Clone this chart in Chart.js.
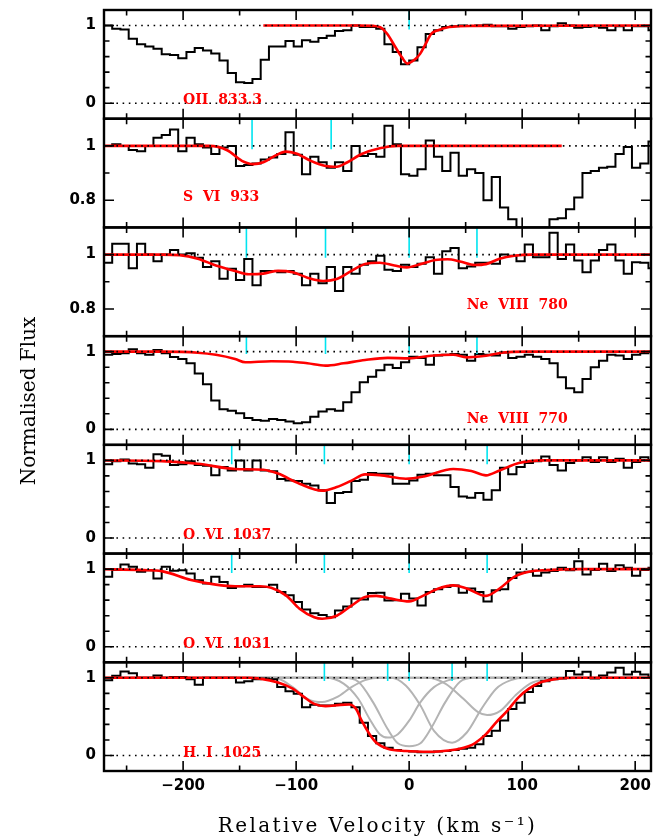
<!DOCTYPE html>
<html>
<head>
<meta charset="utf-8">
<title>Velocity stack</title>
<script src="https://cdn.jsdelivr.net/npm/chart.js@4.4.1/dist/chart.umd.min.js"></script>
<style>
  html, body { margin: 0; padding: 0; background: #fff; }
  #wrap { position: relative; width: 655px; height: 836px; }
</style>
</head>
<body>
<div id="wrap"><canvas id="stack"></canvas></div>
<script>
// ── data ─────────────────────────────────────────────────────
const X_MIN = -270, X_MAX = 214;
const X_LABELS = [-200, -100, 0, 100, 200];
const X_MINOR  = [-250, -150, -50, 50, 150];

// pixel centres (km/s), shared by all transitions
const VEL = [-273.7, -266.4, -259.1, -251.8, -244.5, -237.2, -229.9, -222.6, -215.3, -208.0,
  -200.7, -193.4, -186.1, -178.8, -171.5, -164.2, -156.9, -149.6, -142.3, -135.0,
  -127.7, -120.4, -113.1, -105.8, -98.5, -91.2, -83.9, -76.6, -69.3, -62.0,
  -54.7, -47.4, -40.1, -32.8, -25.5, -18.2, -10.9, -3.6, 3.7, 11.0,
  18.3, 25.6, 32.9, 40.2, 47.5, 54.8, 62.1, 69.4, 76.7, 84.0,
  91.3, 98.6, 105.9, 113.2, 120.5, 127.8, 135.1, 142.4, 149.7, 157.0,
  164.3, 171.6, 178.9, 186.2, 193.5, 200.8, 208.1, 215.4, 222.7];

const FLUX_OII = [1.0, 1.0, 0.96, 0.95, 0.83, 0.76, 0.73, 0.70, 0.63, 0.62,
  0.58, 0.66, 0.71, 0.68, 0.64, 0.55, 0.39, 0.27, 0.26, 0.31,
  0.56, 0.73, 0.73, 0.80, 0.73, 0.81, 0.79, 0.84, 0.87, 0.93,
  0.94, 1.00, 0.98, 0.98, 0.96, 0.76, 0.66, 0.50, 0.55, 0.72,
  0.89, 0.94, 0.98, 0.99, 1.00, 0.995, 1.00, 1.01, 0.99, 0.99,
  0.96, 0.98, 0.99, 1.00, 0.94, 0.99, 1.03, 1.00, 0.97, 0.98,
  0.99, 0.97, 0.94, 0.99, 0.94, 0.99, 0.99, 0.94, 0.94];

const FLUX_SVI = [1.0, 1.0, 1.006, 1.0, 0.985, 0.98, 1.0, 1.03, 1.04, 1.06,
  0.98, 1.03, 1.006, 0.994, 0.97, 0.994, 1.0, 0.926, 0.93, 0.935,
  0.95, 0.957, 0.97, 1.05, 0.967, 0.896, 0.96, 0.94, 0.92, 0.94,
  0.908, 1.0, 0.963, 0.97, 0.96, 1.074, 1.006, 0.896, 0.89, 0.914,
  1.02, 0.96, 0.908, 0.975, 0.89, 0.914, 0.9, 0.8, 0.886, 0.773,
  0.73, 0.69, 0.65, 0.65, 0.66, 0.73, 0.734, 0.767, 0.81, 0.90,
  0.908, 0.92, 0.923, 0.97, 0.996, 0.92, 0.935, 1.016, 1.016];

const FLUX_NE780 = [0.97, 0.97, 1.04, 1.04, 0.95, 1.04, 1.0, 0.976, 1.0, 1.017,
  1.0, 1.005, 0.988, 0.954, 0.976, 0.911, 0.948, 0.907, 0.984, 0.887,
  0.94, 0.94, 0.935, 0.94, 0.93, 0.887, 0.93, 0.895, 0.954, 0.866,
  0.954, 0.93, 0.963, 0.976, 0.996, 0.944, 0.94, 0.963, 0.954, 0.966,
  0.99, 0.93, 1.012, 1.024, 0.95, 0.956, 0.97, 0.97, 0.966, 1.0,
  0.996, 0.976, 1.037, 0.99, 0.99, 1.08, 0.984, 1.037, 0.978, 0.935,
  0.978, 1.017, 1.037, 0.978, 0.93, 0.972, 0.97, 0.95, 0.95];

const FLUX_NE770 = [0.96, 0.96, 0.97, 0.98, 1.03, 0.98, 0.96, 1.02, 0.98, 0.93,
  0.906, 0.85, 0.72, 0.58, 0.37, 0.26, 0.24, 0.206, 0.146, 0.12,
  0.11, 0.133, 0.12, 0.10, 0.077, 0.09, 0.163, 0.23, 0.26, 0.24,
  0.35, 0.476, 0.605, 0.678, 0.76, 0.833, 0.79, 0.863, 0.936, 0.918,
  0.833, 0.95, 0.96, 0.97, 0.96, 0.884, 0.97, 0.96, 0.95, 0.99,
  0.918, 0.935, 0.96, 0.935, 0.906, 0.85, 0.67, 0.53, 0.476, 0.648,
  0.8, 0.884, 0.96, 0.95, 0.906, 0.96, 0.98, 1.0, 1.0];

const FLUX_OVI1037 = [0.95, 0.95, 0.99, 1.01, 0.96, 0.95, 0.906, 1.08, 1.06, 0.94,
  0.95, 0.99, 0.94, 0.93, 0.81, 0.914, 0.87, 1.0, 0.87, 1.0,
  0.87, 0.86, 0.76, 0.74, 0.734, 0.70, 0.678, 0.614, 0.45, 0.58,
  0.592, 0.734, 0.75, 0.837, 0.828, 0.828, 0.70, 0.70, 0.74, 0.815,
  0.828, 0.807, 0.807, 0.657, 0.536, 0.52, 0.58, 0.494, 0.614, 0.906,
  0.82, 0.914, 0.966, 0.99, 1.05, 0.94, 0.87, 0.966, 1.0, 1.04,
  0.98, 1.04, 0.98, 1.02, 0.906, 0.98, 1.04, 1.0, 1.0];

const FLUX_OVI1031 = [0.90, 0.90, 0.99, 1.06, 1.03, 0.965, 0.985, 0.88, 1.03, 0.98,
  0.985, 0.944, 0.857, 0.814, 0.9, 0.835, 0.758, 0.78, 0.8, 0.77,
  0.77, 0.8, 0.705, 0.662, 0.576, 0.48, 0.43, 0.41, 0.38, 0.467,
  0.52, 0.62, 0.61, 0.693, 0.697, 0.597, 0.6, 0.684, 0.62, 0.532,
  0.706, 0.74, 0.77, 0.79, 0.697, 0.75, 0.706, 0.584, 0.727, 0.74,
  0.887, 0.957, 0.965, 0.913, 0.957, 0.974, 1.017, 0.985, 1.1, 0.93,
  0.987, 1.07, 0.974, 1.05, 1.017, 0.913, 0.99, 1.017, 1.017];

const FLUX_HI = [0.97, 0.97, 1.026, 1.08, 1.06, 1.0, 1.0, 1.03, 1.0, 1.01,
  1.01, 0.98, 0.91, 1.0, 1.0, 1.0, 1.0, 0.94, 0.957, 0.98,
  0.99, 0.98, 0.883, 0.826, 0.796, 0.622, 0.652, 0.643, 0.643, 0.665,
  0.678, 0.62, 0.42, 0.252, 0.157, 0.10, 0.07, 0.057, 0.05, 0.043,
  0.043, 0.05, 0.057, 0.07, 0.087, 0.1, 0.143, 0.252, 0.317, 0.45,
  0.6, 0.678, 0.817, 0.896, 0.957, 0.983, 0.99, 1.087, 1.043, 1.078,
  0.99, 1.03, 1.07, 1.13, 1.043, 1.078, 1.043, 1.0, 0.883];

// fitted profiles (red)
const MOD_OII_V = [-129, -45, -32, -25.7, -19.3, -12.9, -6.4, -1.6, 4.8, 9.7, 14.5, 19.3, 25.7, 35.4, 54.7, 225];
const MOD_OII_F = [1.0, 1.0, 0.995, 0.98, 0.89, 0.74, 0.59, 0.51, 0.56, 0.635, 0.76, 0.89, 0.94, 0.98, 0.995, 1.0];

const MOD_SVI_V = [-275, -177, -161, -148, -138, -129, -119, -109, -100, -87, -74, -64, -55, -42, -26, -10, 135];
const MOD_SVI_F = [1.0, 1.0, 0.984, 0.945, 0.933, 0.94, 0.963, 0.979, 0.972, 0.945, 0.926, 0.923, 0.939, 0.97, 0.991, 1.0, 1.0];

const MOD_NE780_V = [-275, -219, -203, -187, -171, -154, -142, -129, -116, -103, -90, -76, -64, -51,
  -39, -26, -13, -2, 10, 23, 34, 45, 58, 68, 80, 93, 109, 225];
const MOD_NE780_F = [1.0, 1.0, 0.998, 0.985, 0.96, 0.94, 0.928, 0.93, 0.94, 0.935, 0.915, 0.903, 0.91, 0.94,
  0.965, 0.97, 0.96, 0.953, 0.965, 0.98, 0.983, 0.975, 0.962, 0.965, 0.985, 0.996, 1.0, 1.0];

const MOD_NE770_V = [-275, -220, -187, -171, -154, -145, -122, -103, -90, -74, -58, -39, -19, 0, 19, 39, 51, 64, 84, 103, 225];
const MOD_NE770_F = [1.0, 1.0, 0.987, 0.96, 0.906, 0.863, 0.876, 0.871, 0.85, 0.82, 0.85, 0.893, 0.92, 0.914, 0.948, 0.96, 0.927, 0.94, 0.99, 1.0, 1.0];

const MOD_OVI1037_V = [-275, -219, -187, -154, -129, -116, -97, -77, -64, -51, -39, -26, -3, 13, 39, 55, 68, 80, 97, 119, 225];
const MOD_OVI1037_F = [1.0, 0.99, 0.957, 0.89, 0.88, 0.83, 0.70, 0.61, 0.657, 0.74, 0.82, 0.81, 0.764, 0.794, 0.89, 0.863, 0.807, 0.87, 0.966, 1.0, 1.0];

const MOD_OVI1031_V = [-275, -235, -219, -193, -171, -154, -132, -122, -109, -97, -84, -77, -64, -51, -39,
  -29, -16, 0, 13, 26, 39, 51, 68, 80, 93, 106, 122, 151, 225];
const MOD_OVI1031_F = [1.0, 0.987, 0.974, 0.86, 0.8, 0.78, 0.78, 0.76, 0.662, 0.49, 0.38, 0.36, 0.40, 0.53, 0.64,
  0.655, 0.62, 0.584, 0.662, 0.75, 0.79, 0.75, 0.655, 0.75, 0.9, 0.965, 0.987, 1.0, 1.0];

const MOD_HI_V = [-275, -142, -132, -116, -103, -93, -84, -74, -61, -53, -47, -42, -35, -29, -19,
  -3, 19, 35, 45, 58, 68, 77, 87, 97, 106, 116, 129, 150, 225];
const MOD_HI_F = [1.0, 1.0, 0.99, 0.94, 0.86, 0.752, 0.665, 0.635, 0.652, 0.657, 0.6, 0.448, 0.274, 0.165, 0.087,
  0.057, 0.048, 0.065, 0.087, 0.157, 0.274, 0.426, 0.578, 0.752, 0.861, 0.939, 0.983, 1.0, 1.0];

// individual H I components (grey)
const HI_A_V = [-275, -119, -103, -90, -77, -64, -51, -39, -26, 225];
const HI_A_F = [1.0, 1.0, 0.88, 0.73, 0.687, 0.75, 0.88, 0.97, 1.0, 1.0];
const HI_B_V = [-275, -74, -58, -45, -35, -26, -19, -10, 0, 10, 22, 35, 48, 225];
const HI_B_F = [1.0, 1.0, 0.926, 0.73, 0.47, 0.274, 0.23, 0.274, 0.448, 0.687, 0.88, 0.97, 1.0, 1.0];
const HI_C_V = [-275, -58, -45, -32, -19, -10, 0, 10, 19, 32, 45, 58, 225];
const HI_C_F = [1.0, 1.0, 0.95, 0.687, 0.34, 0.157, 0.12, 0.157, 0.34, 0.687, 0.95, 1.0, 1.0];
const HI_D_V = [-275, -16, -3, 10, 22, 38, 51, 64, 77, 90, 103, 225];
const HI_D_F = [1.0, 1.0, 0.9, 0.643, 0.317, 0.165, 0.296, 0.6, 0.86, 0.97, 1.0, 1.0];
const HI_E_V = [-275, 16, 32, 48, 61, 69, 81, 94, 107, 120, 132, 225];
const HI_E_F = [1.0, 1.0, 0.926, 0.73, 0.557, 0.52, 0.578, 0.774, 0.926, 0.983, 1.0, 1.0];

// component velocities (cyan markers)
const TICKS_OII   = [0];
const TICKS_SVI   = [-139, -69];
const TICKS_NEVIII = [-144, -74, 0, 60];
const TICKS_OVI   = [-157, -75, 0, 69];
const TICKS_HI    = [-75, -19, 0, 38, 69];

// ── panel setup (top → bottom) ───────────────────────────────
const PANELS = [
  { label: 'OII  833.3',    flux: FLUX_OII,     mv: MOD_OII_V,     mf: MOD_OII_F,     marks: TICKS_OII,    min: -0.2, max: 1.2, labels: [0, 1],   minor: [0.2, 0.4, 0.6, 0.8], dots: [0, 1], markLow: 0.95,  at: [-200, -0.015] },
  { label: 'S  VI  933',    flux: FLUX_SVI,     mv: MOD_SVI_V,     mf: MOD_SVI_F,     marks: TICKS_SVI,    min: 0.7,  max: 1.1, labels: [0.8, 1], minor: [0.9],                dots: [1],    markLow: 0.988, at: [-200, 0.797] },
  { label: 'Ne  VIII  780', flux: FLUX_NE780,   mv: MOD_NE780_V,   mf: MOD_NE780_F,   marks: TICKS_NEVIII, min: 0.7,  max: 1.1, labels: [0.8, 1], minor: [0.9],                dots: [1],    markLow: 0.988, at: [51, 0.8] },
  { label: 'Ne  VIII  770', flux: FLUX_NE770,   mv: MOD_NE770_V,   mf: MOD_NE770_F,   marks: TICKS_NEVIII, min: -0.2, max: 1.2, labels: [0, 1],   minor: [0.2, 0.4, 0.6, 0.8], dots: [0, 1], markLow: 0.97,  at: [51, 0.08] },
  { label: 'O  VI  1037',   flux: FLUX_OVI1037, mv: MOD_OVI1037_V, mf: MOD_OVI1037_F, marks: TICKS_OVI,    min: -0.2, max: 1.2, labels: [0, 1],   minor: [0.2, 0.4, 0.6, 0.8], dots: [0, 1], markLow: 0.95,  at: [-200, -0.01] },
  { label: 'O  VI  1031',   flux: FLUX_OVI1031, mv: MOD_OVI1031_V, mf: MOD_OVI1031_F, marks: TICKS_OVI,    min: -0.2, max: 1.2, labels: [0, 1],   minor: [0.2, 0.4, 0.6, 0.8], dots: [0, 1], markLow: 0.95,  at: [-200, -0.01] },
  { label: 'H  I  1025',    flux: FLUX_HI,      mv: MOD_HI_V,      mf: MOD_HI_F,      marks: TICKS_HI,     min: -0.2, max: 1.2, labels: [0, 1],   minor: [0.2, 0.4, 0.6, 0.8], dots: [0, 1], markLow: 0.96,  at: [-200, -0.02] },
];
const HI_COMPONENTS = [[HI_A_V, HI_A_F], [HI_B_V, HI_B_F], [HI_C_V, HI_C_F], [HI_D_V, HI_D_F], [HI_E_V, HI_E_F]];

const RED = '#ff0000';
const CYAN = '#00e4f0';
const GREY = '#b4b4b4';
const TICK_FONT = { family: 'DejaVu Sans', size: 15, weight: 'bold' };
const X_TITLE = 'Relative Velocity (km s\u207B\u00B9)';
const Y_TITLE = 'Normalised Flux';

const pairs = (xs, ys) => xs.map((v, i) => ({ x: v, y: ys[i] }));
// keep the plot box fixed: drop the label overhang Chart.js reserves
const noOverhang = s => { s.paddingTop = 0; s.paddingBottom = 0; s.paddingLeft = 0; s.paddingRight = 0; };

// ── datasets ─────────────────────────────────────────────────
const datasets = [];
PANELS.forEach((p, k) => {
  const yAxisID = 'y' + k;
  datasets.push({
    yAxisID, data: pairs(VEL, p.flux), stepped: 'middle',
    borderColor: '#000', borderWidth: 2, clip: 0, order: 4,
  });
  datasets.push({
    yAxisID, data: pairs(p.mv, p.mf), cubicInterpolationMode: 'monotone',
    borderColor: RED, borderWidth: 2.6, clip: 0, order: 2,
  });
  datasets.push({
    yAxisID, data: p.marks.flatMap(v => [{ x: v, y: p.max }, { x: v, y: p.markLow }, { x: v, y: null }]),
    borderColor: CYAN, borderWidth: 1.6, clip: 0, order: 3, spanGaps: false,
  });
  p.dots.forEach(lvl => datasets.push({
    yAxisID, data: [{ x: X_MIN, y: lvl }, { x: X_MAX, y: lvl }],
    borderColor: '#000', borderWidth: 1.6, borderDash: [1.6, 4.6], clip: 0, order: 1,
  }));
});
HI_COMPONENTS.forEach(([v, f]) => datasets.push({
  yAxisID: 'y' + (PANELS.length - 1), data: pairs(v, f), cubicInterpolationMode: 'monotone',
  borderColor: GREY, borderWidth: 2, clip: 0, order: 6,
}));

// ── scales ───────────────────────────────────────────────────
const scales = {
  x: {
    type: 'linear', position: 'bottom', min: X_MIN, max: X_MAX,
    afterBuildTicks: s => { s.ticks = X_LABELS.map(v => ({ value: v })); },
    afterFit: s => { s.height = 65; noOverhang(s); },
    grid: { display: false, drawTicks: false },
    border: { display: false },
    ticks: {
      padding: 6, maxRotation: 0, color: '#000', font: TICK_FONT,
      callback: v => v < 0 ? '\u2212' + Math.abs(v) : String(v),
    },
  },
};
PANELS.forEach((p, k) => {
  scales['y' + k] = {
    type: 'linear', position: 'left', stack: 'flux', stackWeight: 1, weight: PANELS.length - k,
    min: p.min, max: p.max,
    afterBuildTicks: s => { s.ticks = p.labels.map(v => ({ value: v })); },
    afterFit: s => { s.width = 104; noOverhang(s); },
    grid: { display: false, drawTicks: false },
    border: { display: false },
    ticks: { padding: 8, color: '#000', font: TICK_FONT, callback: v => String(v) },
  };
});

// ── frames, inward ticks, labels, axis titles ────────────────
const panelFrames = {
  id: 'panelFrames',
  afterDatasetsDraw(chart) {
    const { ctx, chartArea } = chart;
    const xs = chart.scales.x;
    ctx.save();
    ctx.strokeStyle = '#000';
    PANELS.forEach((p, k) => {
      const ys = chart.scales['y' + k];
      const L = xs.left, R = xs.right, T = ys.top, B = ys.bottom;
      ctx.lineWidth = 1.6;
      ctx.beginPath();
      const xTick = (vals, len) => vals.forEach(v => {
        const px = xs.getPixelForValue(v);
        ctx.moveTo(px, T); ctx.lineTo(px, T + len);
        ctx.moveTo(px, B); ctx.lineTo(px, B - len);
      });
      const yTick = (vals, len) => vals.forEach(v => {
        const py = ys.getPixelForValue(v);
        ctx.moveTo(L, py); ctx.lineTo(L + len, py);
        ctx.moveTo(R, py); ctx.lineTo(R - len, py);
      });
      xTick(X_LABELS, 10);
      xTick(X_MINOR, 5.5);
      yTick(p.labels, 10);
      yTick(p.minor, 5.5);
      ctx.stroke();
      ctx.lineWidth = 2.4;
      ctx.strokeRect(L, T, R - L, B - T);

      ctx.fillStyle = RED;
      ctx.font = 'bold 14px "DejaVu Serif"';
      ctx.textAlign = 'left';
      ctx.textBaseline = 'alphabetic';
      ctx.fillText(p.label, xs.getPixelForValue(p.at[0]), ys.getPixelForValue(p.at[1]));
    });

    ctx.fillStyle = '#000';
    ctx.textAlign = 'center';
    ctx.font = '20px "DejaVu Serif"';
    ctx.letterSpacing = '2.4px';
    ctx.textBaseline = 'alphabetic';
    ctx.fillText(X_TITLE, (chartArea.left + chartArea.right) / 2, 832);

    ctx.letterSpacing = '0px';
    ctx.translate(30, 401);
    ctx.rotate(-Math.PI / 2);
    ctx.textBaseline = 'middle';
    ctx.fillText(Y_TITLE, 0, 0);
    ctx.restore();
  },
};

new Chart(document.getElementById('stack'), {
  type: 'line',
  data: { datasets },
  options: {
    responsive: true,
    maintainAspectRatio: false,
    devicePixelRatio: 1,
    animation: false,
    events: [],
    layout: { padding: { left: 0, right: 4, top: 10, bottom: 0 } },
    elements: { point: { radius: 0 }, line: { tension: 0, borderCapStyle: 'butt' } },
    plugins: { legend: { display: false }, tooltip: { enabled: false } },
    scales,
  },
  plugins: [panelFrames],
});
</script>
</body>
</html>
